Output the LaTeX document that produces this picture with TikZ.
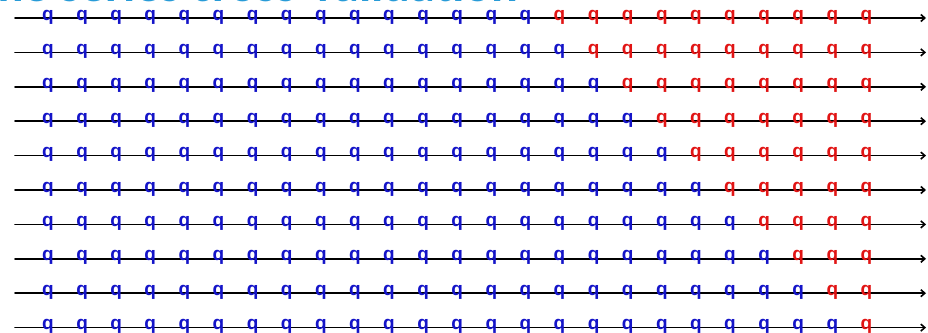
\documentclass[tikz,border=0pt]{standalone}
\usepackage{fontspec}
\setsansfont{Carlito}
\newfontfamily\markfont{Liberation Sans}
\usepackage{xcolor}
\usetikzlibrary{arrows.meta,calc,positioning}
\definecolor{trainblue}{RGB}{20,20,200}
\definecolor{testred}{RGB}{225,20,20}
\definecolor{titleblue}{RGB}{40,155,215}
\tikzset{
  timeline/.style={line width=1.6pt, -{Straight Barb[length=4pt,width=7pt]}},
  obs/.style={font=\markfont\bfseries\fontsize{19}{19}\selectfont, inner sep=0pt, anchor=mid},
  trainobs/.style={obs, text=trainblue},
  testobs/.style={obs, text=testred},
  every picture/.style={line cap=round, line join=round}
}

\begin{document}
\begin{tikzpicture}[x=1pt,y=-1pt]
    \useasboundingbox (0,0) rectangle (928,332);

    % title, mostly cut off at the top
    \node[anchor=base west, inner sep=0pt, text=titleblue,
          font=\sffamily\bfseries\fontsize{50}{50}\selectfont] (title) at (-54,1.3)
          {Time series cross-validation};

    % one time line per fold
    \foreach \r in {1,...,10} {
      \coordinate (s\r) at (15,{18+(\r-1)*34.4});
      \coordinate (e\r) at (926,{18+(\r-1)*34.4});
      \draw[timeline] (s\r) -- (e\r);
    }

    % training (blue) and test (red) observations
    \foreach \r in {1,...,10} {
      \foreach \c in {1,...,25} {
        \pgfmathtruncatemacro{\ntrain}{14+\r}
        \ifnum\c>\ntrain
          \node[testobs] (o\r-\c) at ({48+(\c-1)*34.1},{18+(\r-1)*34.4}) {q};
        \else
          \node[trainobs] (o\r-\c) at ({48+(\c-1)*34.1},{18+(\r-1)*34.4}) {q};
        \fi
      }
    }
\end{tikzpicture}
\end{document}
